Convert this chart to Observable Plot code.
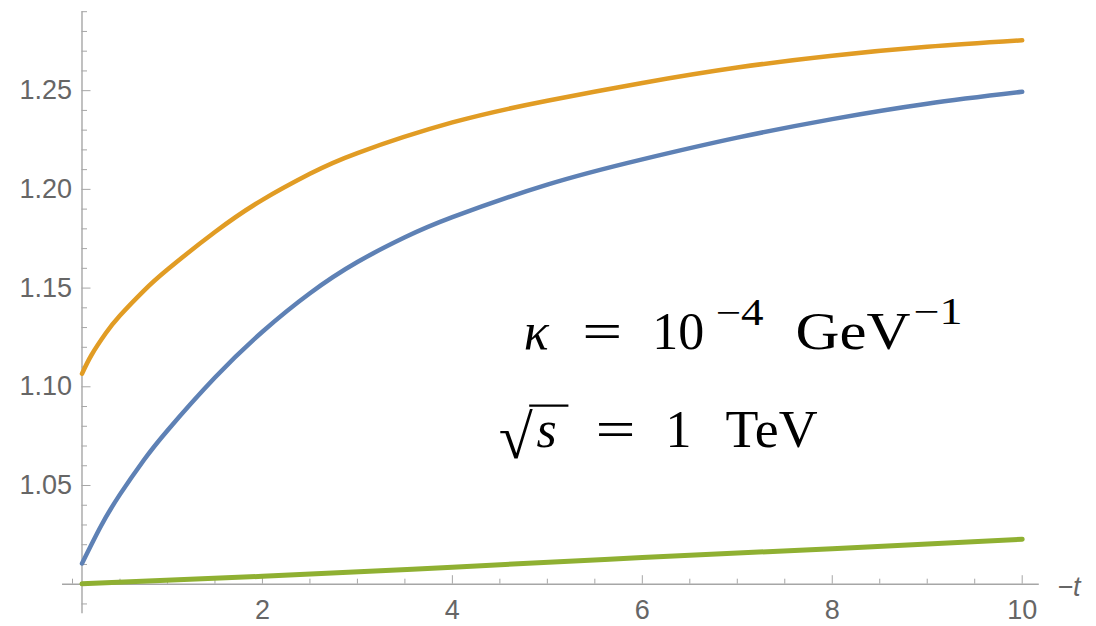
<!DOCTYPE html>
<html>
<head>
<meta charset="utf-8">
<script src="https://cdn.jsdelivr.net/npm/d3@7"></script>
<script src="https://cdn.jsdelivr.net/npm/@observablehq/plot@0.6"></script>
<style>
  html, body { margin: 0; padding: 0; background: #fff; }
</style>
</head>
<body>
<div id="chart"></div>
<script>
// Ratio curves versus -t, three parameter settings
const tBlue = [0.1, 0.3, 0.5, 0.75, 1.0, 1.5, 2.0, 2.5, 3.0, 3.5, 4.0, 5.0, 6.0, 7.0, 8.0, 9.0, 10];
const vBlue = [1.0105, 1.0295, 1.0455, 1.0628, 1.0779, 1.1047, 1.1279, 1.1474, 1.1632, 1.1757, 1.1859,
               1.2024, 1.2152, 1.2262, 1.2356, 1.2434, 1.2494];

const tOrange = [0.1, 0.2, 0.35, 0.5, 0.75, 1.0, 1.5, 2.0, 2.5, 3.0, 4.0, 5.0, 6.0, 7.0, 8.0, 9.0, 10];
const vOrange = [1.1066, 1.1161, 1.1271, 1.1361, 1.1486, 1.1594, 1.1784, 1.1947, 1.2079, 1.2184, 1.2339,
                 1.2449, 1.2539, 1.2617, 1.2677, 1.2722, 1.2755];

const tGreen = [0.1, 2, 4, 6, 8, 10];
const vGreen = [1.0002, 1.0040, 1.0086, 1.0135, 1.0180, 1.0228];

// Axis ticks
const xMajorTicks = [2, 4, 6, 8, 10];
const xMinorTicks = [0, 0.5, 1, 1.5, 2.5, 3, 3.5, 4.5, 5, 5.5, 6.5, 7, 7.5, 8.5, 9, 9.5];
const yMajorTicks = [1.05, 1.10, 1.15, 1.20, 1.25];
const yMinorTicks = [0.99, 1.01, 1.02, 1.03, 1.04, 1.06, 1.07, 1.08, 1.09, 1.11, 1.12, 1.13, 1.14,
                     1.16, 1.17, 1.18, 1.19, 1.21, 1.22, 1.23, 1.24, 1.26, 1.27, 1.28, 1.29];
const xAxisLabel = "−t";

// Formula runs: kappa = 10^-4 GeV^-1 and sqrt(s) = 1 TeV
const formulaUpright = [
  {t: 5.368, v: 1.11925, s: "=", size: 52, w: 40},
  {t: 6.105, v: 1.11925, s: "10", size: 52, w: 52},
  {t: 6.772, v: 1.1313, s: "−4", size: 37, w: 48},
  {t: 7.613, v: 1.11925, s: "GeV", size: 52, w: 115},
  {t: 8.855, v: 1.1318, s: "−1", size: 37, w: 49},
  {t: 4.487, v: 1.0640, s: "√", size: 62},
  {t: 5.508, v: 1.0694, s: "=", size: 52, w: 40},
  {t: 6.245, v: 1.0694, s: "1", size: 52},
  {t: 6.877, v: 1.0694, s: "TeV", size: 52, w: 92}
];
const formulaItalic = [
  {t: 4.751, v: 1.11925, s: "κ", size: 52},
  {t: 4.887, v: 1.0694, s: "s", size: 52}
];
const radicalBar = [{t1: 4.814, t2: 5.227, v: 1.0905}];

const toRows = (ts, vs) => ts.map((t, i) => ({t, v: vs[i]}));
const blue = toRows(tBlue, vBlue);
const orange = toRows(tOrange, vOrange);
const green = toRows(tGreen, vGreen);

const axisColor = "#a6a6a6";
const serif = "'Liberation Serif', 'Times New Roman', serif";

const chart = Plot.plot({
  width: 1096,
  height: 626,
  marginLeft: 81.5,
  marginRight: 74.3,
  marginTop: 11.2,
  marginBottom: 42.3,
  x: {domain: [0.1, 10], label: null},
  y: {domain: [1.0, 1.29], label: null},
  style: {
    fontFamily: "'Liberation Sans', Arial, sans-serif",
    fontSize: "27px",
    color: "#666",
    background: "#fff",
    overflow: "visible"
  },
  marks: [
    // axis lines
    Plot.ruleY([1.0], {x1: -0.105, x2: 10.18, stroke: axisColor, strokeWidth: 1.4}),
    Plot.ruleX([0.1], {y1: 0.985, y2: 1.29, stroke: axisColor, strokeWidth: 1.4}),
    // ticks and tick labels
    Plot.axisX({ticks: xMinorTicks, tickSize: -5, text: null, label: null, color: axisColor}),
    Plot.axisX({ticks: xMajorTicks, tickSize: -8.5, text: null, label: null, color: axisColor}),
    Plot.axisX({ticks: xMajorTicks, tickSize: 0, tickPadding: 16, label: null, tickFormat: d => String(d), color: "#666"}),
    Plot.axisY({ticks: yMinorTicks, tickSize: -5.5, text: null, label: null, color: axisColor}),
    Plot.axisY({ticks: yMajorTicks, tickSize: -9, text: null, label: null, color: axisColor}),
    Plot.axisY({ticks: yMajorTicks, tickSize: 0, tickPadding: 10, label: null, tickFormat: d3.format(".2f"), color: "#666"}),
    Plot.text([xAxisLabel], {x: 10.37, y: 1.0, dy: 3, text: d => d, textAnchor: "start", fontStyle: "italic", fill: "#666", fontSize: 27}),
    // curves
    Plot.line(blue, {x: "t", y: "v", stroke: "#5E81B5", strokeWidth: 4.5, curve: "natural"}),
    Plot.line(orange, {x: "t", y: "v", stroke: "#E19C24", strokeWidth: 4.5, curve: "natural"}),
    Plot.line(green, {x: "t", y: "v", stroke: "#8FB032", strokeWidth: 5, curve: "natural"}),
    // formula
    Plot.text(formulaUpright, {x: "t", y: "v", text: "s", fontSize: "size", textAnchor: "start", lineAnchor: "bottom", fontFamily: serif, fill: "#000"}),
    Plot.text(formulaItalic, {x: "t", y: "v", text: "s", fontSize: "size", textAnchor: "start", lineAnchor: "bottom", fontFamily: serif, fontStyle: "italic", fill: "#000"}),
    Plot.ruleY(radicalBar, {y: "v", x1: "t1", x2: "t2", stroke: "#000", strokeWidth: 2.2})
  ]
});

// stretch the formula runs to their typeset widths
const runWidth = new Map(formulaUpright.filter(d => d.w).map(d => [d.s, d.w]));
d3.select(chart).selectAll("g[font-family] text").each(function () {
  const w = runWidth.get(this.textContent);
  if (w) {
    this.setAttribute("textLength", w);
    this.setAttribute("lengthAdjust", "spacingAndGlyphs");
  }
});

document.getElementById("chart").appendChild(chart);
</script>
</body>
</html>
